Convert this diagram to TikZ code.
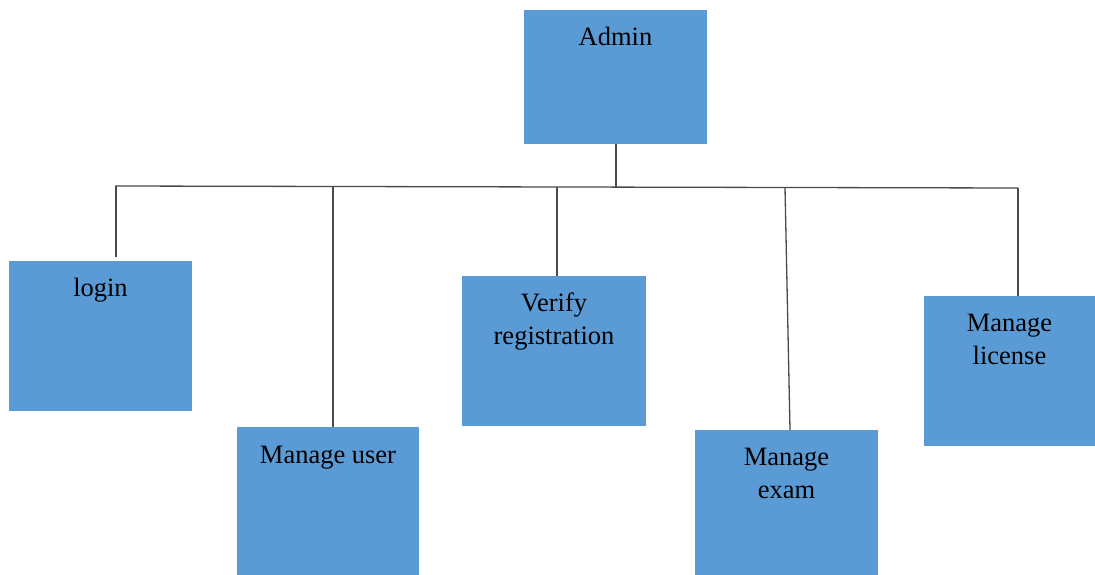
\documentclass[tikz,border=0pt]{standalone}
\usepackage{fontspec}
\setmainfont{Liberation Serif}
\definecolor{boxblue}{HTML}{5B9BD5}
\definecolor{wire}{HTML}{4A4A4A}
\begin{document}
\begin{tikzpicture}[x=1pt,y=-1pt,
  box/.style={rectangle, fill=boxblue, draw=none, inner sep=0pt},
  lbl/.style={inner sep=0pt, anchor=base, font=\fontsize{26.5}{30}\selectfont, text=black},
  link/.style={draw=wire, line width=1.3pt}]
\useasboundingbox (0,0) rectangle (1095,575);

% boxes (centre, width, height in px)
\node[box, minimum width=183, minimum height=134] (admin)   at (615.5,77)   {};
\node[box, minimum width=183, minimum height=150] (login)   at (100.5,336)  {};
\node[box, minimum width=182, minimum height=150] (user)    at (328,502)    {};
\node[box, minimum width=184, minimum height=150] (verify)  at (554,351)    {};
\node[box, minimum width=183, minimum height=150] (exam)    at (786.5,505)  {};
\node[box, minimum width=171, minimum height=150] (license) at (1009.5,371) {};

% labels
\node[lbl] (tAdmin)  at ([yshift=-36pt]admin.north)   {Admin};
\node[lbl] (tLogin)  at ([yshift=-36pt]login.north)   {login};
\node[lbl] (tUser)   at ([yshift=-37pt]user.north)    {Manage user};
\node[lbl] (tVer1)   at ([yshift=-36pt]verify.north)  {Verify};
\node[lbl] (tVer2)   at ([yshift=-69pt]verify.north)  {registration};
\node[lbl] (tExam1)  at ([yshift=-36pt]exam.north)    {Manage};
\node[lbl] (tExam2)  at ([yshift=-69pt]exam.north)    {exam};
\node[lbl] (tLic1)   at ([yshift=-36pt]license.north) {Manage};
\node[lbl] (tLic2)   at ([yshift=-69pt]license.north) {license};

% bus line and its taps
\coordinate (busL) at (115,186);
\coordinate (busR) at (1018,188);
\coordinate (tapAdmin) at (616,186.9);
\coordinate (tapLogin) at (116,186);
\coordinate (tapUser)  at (333,186.5);
\coordinate (tapVer)   at (557,187);
\coordinate (tapExam)  at (785,187.5);

\draw[link] (busL) -- (busR);
\draw[link] ([xshift=0.5pt]admin.south) -- (tapAdmin);
\draw[link] (tapLogin) -- ([xshift=15.5pt,yshift=4pt]login.north);
\draw[link] (tapUser)  -- ([xshift=5pt]user.north);
\draw[link] (tapVer)   -- ([xshift=3pt]verify.north);
\draw[link] (tapExam)  -- ([xshift=3.5pt]exam.north);
\draw[link] (busR)     -- ([xshift=8.5pt]license.north);
\end{tikzpicture}
\end{document}
